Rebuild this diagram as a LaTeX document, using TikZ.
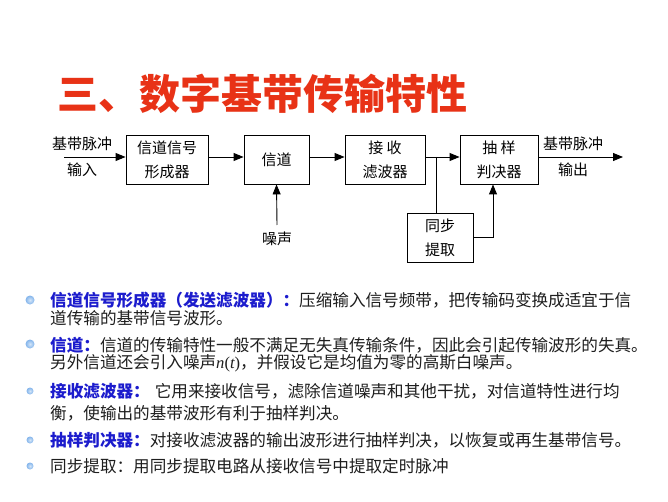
\documentclass[tikz,border=0pt]{standalone}
\usepackage{fontspec}
\setmainfont{Noto Sans CJK SC}
\newfontfamily\tnr{Liberation Serif}
\usetikzlibrary{arrows.meta}
\definecolor{titlered}{RGB}{232,50,22}
\definecolor{kwblue}{RGB}{28,28,205}
\definecolor{bodyblack}{RGB}{30,30,30}
\definecolor{bulletblue}{RGB}{130,180,235}
\tikzset{
  blk/.style={draw=black, line width=0.9pt, minimum height=49pt, inner sep=0pt, align=center,
    font=\fontsize{15}{24}\selectfont},
  lbl/.style={inner sep=0pt, align=center, font=\fontsize{15}{26}\selectfont},
  arr/.style={line width=0.9pt, -{Triangle[length=10pt,width=8pt]}},
  ln/.style={line width=0.9pt},
  body/.style={anchor=west, inner sep=0pt, text=bodyblack, font=\fontsize{16.6}{20}\selectfont},
  bul/.style={circle, inner sep=0pt, draw=none, shading=radial,
    inner color=bulletblue!35!white, outer color=bulletblue}
}
\newcommand{\kwd}[1]{{\bfseries\color{kwblue}#1}}
\begin{document}
\begin{tikzpicture}[x=1pt,y=-1pt]
\useasboundingbox (0,0) rectangle (668,502);
\fill[white] (0,0) rectangle (668,502);
% title
\node[anchor=west, inner sep=0pt, text=titlered, font=\fontsize{41}{41}\selectfont\bfseries] (title) at (57,94) {三、数字基带传输特性};
% blocks
\node[blk, minimum width=82pt] (b1) at (167,159.5) {信道信号\\形成器};
\node[blk, minimum width=65pt] (b2) at (276.5,159.5) {信道};
\node[blk, minimum width=80pt] (b3) at (385,159.5) {接 收\\滤波器};
\node[blk, minimum width=78pt] (b4) at (499,159.5) {抽 样\\判决器};
\node[blk, minimum width=66pt] (sy) at (440,237.5) {同步\\提取};
\node[lbl] (inl) at (82,157) {基带脉冲\\输入};
\node[lbl] (outl) at (573,157) {基带脉冲\\输出};
\node[lbl] (noise) at (277,238.5) {噪声};
\coordinate (in) at (64,157);
\coordinate (out) at (623,157);
\coordinate (j) at (436,157);
\coordinate (ns) at (277,225);
\draw[arr] (in) -- ([yshift=2.5pt]b1.west);
\draw[arr] ([yshift=2.5pt]b1.east) -- ([yshift=2.5pt]b2.west);
\draw[arr] ([yshift=2.5pt]b2.east) -- ([yshift=2.5pt]b3.west);
\draw[arr] ([yshift=2.5pt]b3.east) -- ([yshift=2.5pt]b4.west);
\draw[arr] ([yshift=2.5pt]b4.east) -- (out);
\draw[arr] (ns) -- (b2.south);
\draw[ln] (j) -- (j |- sy.north);
\draw[arr] (sy.east) -| ([xshift=-6pt]b4.south);
% bullets
\node[bul, minimum size=9pt] (d1) at (30,300) {};
\node[bul, minimum size=9pt] (d2) at (30,344) {};
\node[bul, minimum size=7pt] (d3) at (30,391) {};
\node[bul, minimum size=7pt] (d4) at (30,440) {};
\node[bul, minimum size=7pt] (d5) at (30,466) {};
% body text
\node[body] (t1) at (50,300) {\kwd{信道信号形成器（发送滤波器）：}压缩输入信号频带，把传输码变换成适宜于信};
\node[body] (t2) at (50,318) {道传输的基带信号波形。};
\node[body] (t3) at (50,345) {\kwd{信道：}信道的传输特性一般不满足无失真传输条件，因此会引起传输波形的失真。};
\node[body] (t4) at (50,363) {另外信道还会引入噪声{\tnr\itshape n}{\tnr(}{\tnr\itshape t}{\tnr)}，并假设它是均值为零的高斯白噪声。};
\node[body] (t5) at (50,391) {\kwd{接收滤波器：}\hspace{5pt}它用来接收信号，滤除信道噪声和其他干扰，对信道特性进行均};
\node[body] (t6) at (50,413) {衡，使输出的基带波形有利于抽样判决。};
\node[body] (t7) at (50,440) {\kwd{抽样判决器：}对接收滤波器的输出波形进行抽样判决，以恢复或再生基带信号。};
\node[body] (t8) at (50,466) {同步提取：用同步提取电路从接收信号中提取定时脉冲};
\end{tikzpicture}
\end{document}
